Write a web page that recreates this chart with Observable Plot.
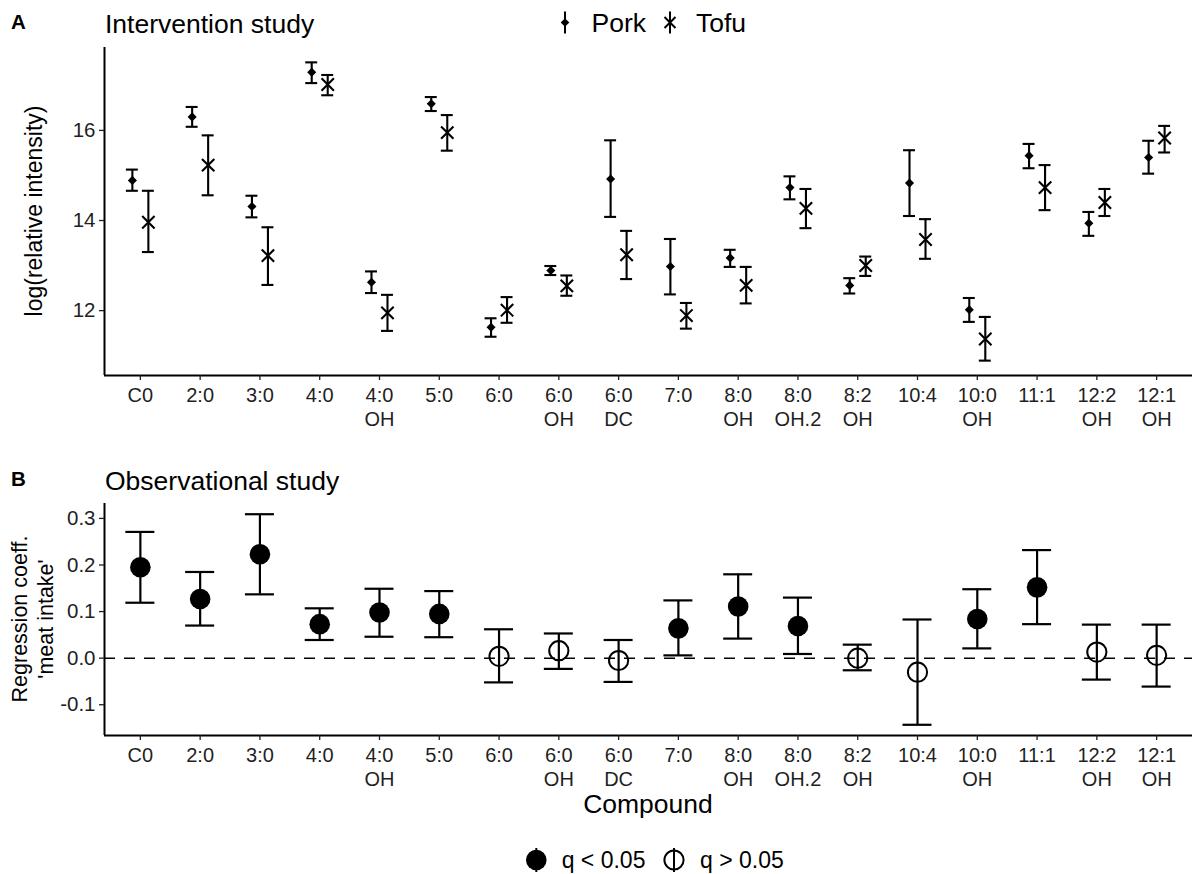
<!DOCTYPE html>
<html><head><meta charset="utf-8">
<script src="https://cdn.jsdelivr.net/npm/d3@7"></script>
<script src="https://cdn.jsdelivr.net/npm/@observablehq/plot@0.6"></script>
<style>
html,body{margin:0;padding:0;background:#fff;}
#root{position:relative;width:1192px;height:874px;overflow:hidden;background:#fff;}
#root svg{position:absolute;left:0;}
</style></head><body><div id="root"></div>
<script>
// ---------- data ----------
const compounds = ["C0","2:0","3:0","4:0","4:0 OH","5:0","6:0","6:0 OH","6:0 DC","7:0","8:0 OH","8:0 OH.2","8:2 OH","10:4","10:0 OH","11:1","12:2 OH","12:1 OH"];

// Panel A: intervention study, log(relative intensity), mean with error bar ends
const porkMean = [14.89,16.30,14.31,17.29,12.63,16.59,11.63,12.89,14.92,12.98,13.17,14.73,12.56,14.83,12.02,15.44,13.94,15.40];
const porkLo   = [14.66,16.08,14.07,17.05,12.39,16.43,11.42,12.79,14.08,12.36,12.97,14.47,12.38,14.10,11.75,15.16,13.66,15.04];
const porkHi   = [15.13,16.52,14.55,17.51,12.87,16.74,11.83,12.99,15.78,13.59,13.35,14.98,12.72,15.56,12.28,15.70,14.19,15.77];
const tofuMean = [13.96,15.23,13.22,17.02,11.95,15.95,12.01,12.55,13.24,11.89,12.56,14.27,13.00,13.58,11.37,14.73,14.40,15.83];
const tofuLo   = [13.30,14.56,12.57,16.78,11.55,15.55,11.73,12.33,12.70,11.60,12.16,13.83,12.77,13.15,10.89,14.23,14.10,15.51];
const tofuHi   = [14.66,15.89,13.85,17.23,12.35,16.34,12.30,12.78,13.77,12.17,12.97,14.70,13.20,14.03,11.86,15.23,14.70,16.10];

// Panel B: observational study, regression coefficient with CI
const coef     = [0.195,0.127,0.223,0.073,0.098,0.095,0.004,0.016,-0.005,0.064,0.111,0.069,0.000,-0.030,0.084,0.152,0.013,0.006];
const coefLo   = [0.119,0.070,0.137,0.039,0.046,0.045,-0.052,-0.023,-0.051,0.006,0.042,0.009,-0.026,-0.143,0.021,0.073,-0.046,-0.061];
const coefHi   = [0.271,0.185,0.309,0.107,0.149,0.144,0.062,0.053,0.039,0.124,0.180,0.130,0.029,0.083,0.148,0.232,0.072,0.072];
const significant = [true,true,true,true,true,true,false,false,false,true,true,true,false,false,true,true,false,false];

const yTicksA = [12,14,16];
const yTicksB = [-0.1,0.0,0.1,0.2,0.3];
const refLine = [0];

// ---------- tables ----------
const idx = compounds.map((_, i) => i);
const pork = idx.map(i => ({i, mean: porkMean[i], lo: porkLo[i], hi: porkHi[i]}));
const tofu = idx.map(i => ({i, mean: tofuMean[i], lo: tofuLo[i], hi: tofuHi[i]}));
const obs = idx.map(i => ({i, coef: coef[i], lo: coefLo[i], hi: coefHi[i], sig: significant[i]}));

const font = '"Liberation Sans", Arial, Helvetica, sans-serif';
const W = 1192;
const xDomain = [-0.6, compounds.length - 1 + 0.6];
const tickLabel = i => compounds[i].replace(" ", "\n");
const ink = "#000";
const axisInk = "#1f1f1f";

function xAxis() {
  return Plot.axisX({ticks: idx, tickFormat: tickLabel, tickSize: 5, tickPadding: 5,
    fontSize: 20, lineHeight: 1.17, label: null, color: axisInk, strokeWidth: 1.3});
}
function frameLines(yDom) {
  return [
    Plot.ruleY([yDom[0]], {stroke: ink, strokeWidth: 2}),
    Plot.ruleX([xDomain[0]], {stroke: ink, strokeWidth: 2})
  ];
}
function errMarks(data, dx, capHalf, sw) {
  return [
    Plot.ruleX(data, {x: "i", y1: "lo", y2: "hi", dx, stroke: ink, strokeWidth: sw}),
    Plot.ruleY(data, {x1: d => d.i - capHalf, x2: d => d.i + capHalf, y: "lo", dx, stroke: ink, strokeWidth: sw}),
    Plot.ruleY(data, {x1: d => d.i - capHalf, x2: d => d.i + capHalf, y: "hi", dx, stroke: ink, strokeWidth: sw})
  ];
}

// ---------- panel A ----------
const yDomA = [10.56, 17.84];
const plotA = Plot.plot({
  width: W, height: 440,
  marginLeft: 104, marginRight: 0, marginTop: 47, marginBottom: 65,
  style: {fontFamily: font, fontSize: "20px", background: "transparent", overflow: "visible"},
  x: {type: "linear", domain: xDomain},
  y: {domain: yDomA},
  marks: [
    ...frameLines(yDomA),
    xAxis(),
    Plot.axisY({ticks: yTicksA, tickSize: 5, tickPadding: 4, fontSize: 20.5, label: null, color: axisInk, strokeWidth: 1.3, tickFormat: d => String(d)}),
    ...errMarks(pork, -8, 0.1, 2.1),
    ...errMarks(tofu, 8, 0.1, 2.1),
    Plot.dot(pork, {x: "i", y: "mean", dx: -8, symbol: "diamond2", r: 4.1, fill: ink, stroke: "none"}),
    Plot.dot(tofu, {x: "i", y: "mean", dx: 8, symbol: "times", r: 5.7, stroke: ink, strokeWidth: 2.1})
  ]
});
plotA.style.top = "0px";
document.getElementById("root").appendChild(plotA);

// ---------- panel B ----------
const yDomB = [-0.166, 0.332];
const plotB = Plot.plot({
  width: W, height: 360,
  marginLeft: 104, marginRight: 0, marginTop: 63, marginBottom: 65,
  style: {fontFamily: font, fontSize: "20px", background: "transparent", overflow: "visible"},
  x: {type: "linear", domain: xDomain},
  y: {domain: yDomB},
  marks: [
    ...frameLines(yDomB),
    xAxis(),
    Plot.axisY({ticks: yTicksB, tickSize: 5, tickPadding: 4, fontSize: 20.5, label: null, color: axisInk, strokeWidth: 1.3, tickFormat: d => d.toFixed(1)}),
    Plot.ruleY(refLine, {stroke: ink, strokeWidth: 1.5, strokeDasharray: "11,9"}),
    ...errMarks(obs, 0, 0.2425, 2.2),
    Plot.dot(obs.filter(d => d.sig), {x: "i", y: "coef", r: 10.3, fill: ink, stroke: "none"}),
    Plot.dot(obs.filter(d => !d.sig), {x: "i", y: "coef", r: 9.6, fill: "none", stroke: ink, strokeWidth: 2})
  ]
});
plotB.style.top = "440px";
document.getElementById("root").appendChild(plotB);

// ---------- titles, axis titles, legends ----------
const ov = d3.select("#root").append("svg")
  .attr("width", W).attr("height", 874)
  .style("top", "0px").style("pointer-events", "none")
  .attr("font-family", font).attr("fill", ink);

function txt(x, y, s, size, o = {}) {
  const t = ov.append("text").attr("x", x).attr("y", y).attr("font-size", size).text(s);
  if (o.bold) t.attr("font-weight", "bold");
  if (o.anchor) t.attr("text-anchor", o.anchor);
  if (o.rotate) t.attr("transform", `rotate(-90 ${x} ${y})`);
  return t;
}
txt(11, 29, "A", 20.5, {bold: true});
txt(105, 33, "Intervention study", 26.5);
txt(11, 486, "B", 20.5, {bold: true});
txt(105, 490, "Observational study", 26.5);
txt(648, 813, "Compound", 26.5, {anchor: "middle"});
txt(42, 211, "log(relative intensity)", 23, {anchor: "middle", rotate: true});
txt(26.7, 619, "Regression coeff.", 21.5, {anchor: "middle", rotate: true});
txt(53.3, 619, "'meat intake'", 21.5, {anchor: "middle", rotate: true});

// legend A
ov.append("line").attr("x1", 565).attr("x2", 565).attr("y1", 11.5).attr("y2", 33.5).attr("stroke", ink).attr("stroke-width", 2);
ov.append("path").attr("d", "M565,18.2L569.3,22.5L565,26.8L560.7,22.5Z").attr("fill", ink);
txt(591.5, 32.3, "Pork", 26.5);
ov.append("line").attr("x1", 670).attr("x2", 670).attr("y1", 11.5).attr("y2", 33.5).attr("stroke", ink).attr("stroke-width", 2);
ov.append("path").attr("d", "M664.5,17L675.5,28M675.5,17L664.5,28").attr("stroke", ink).attr("stroke-width", 2);
txt(696, 32.3, "Tofu", 26.5);

// legend B
ov.append("line").attr("x1", 536.3).attr("x2", 536.3).attr("y1", 848).attr("y2", 872).attr("stroke", ink).attr("stroke-width", 2);
ov.append("circle").attr("cx", 536.3).attr("cy", 860).attr("r", 10.3).attr("fill", ink);
txt(561.7, 868.3, "q < 0.05", 23);
ov.append("line").attr("x1", 674).attr("x2", 674).attr("y1", 848).attr("y2", 872).attr("stroke", ink).attr("stroke-width", 2);
ov.append("circle").attr("cx", 674).attr("cy", 860).attr("r", 9.6).attr("fill", "none").attr("stroke", ink).attr("stroke-width", 2);
txt(700, 868.3, "q > 0.05", 23);
</script>
</body></html>
